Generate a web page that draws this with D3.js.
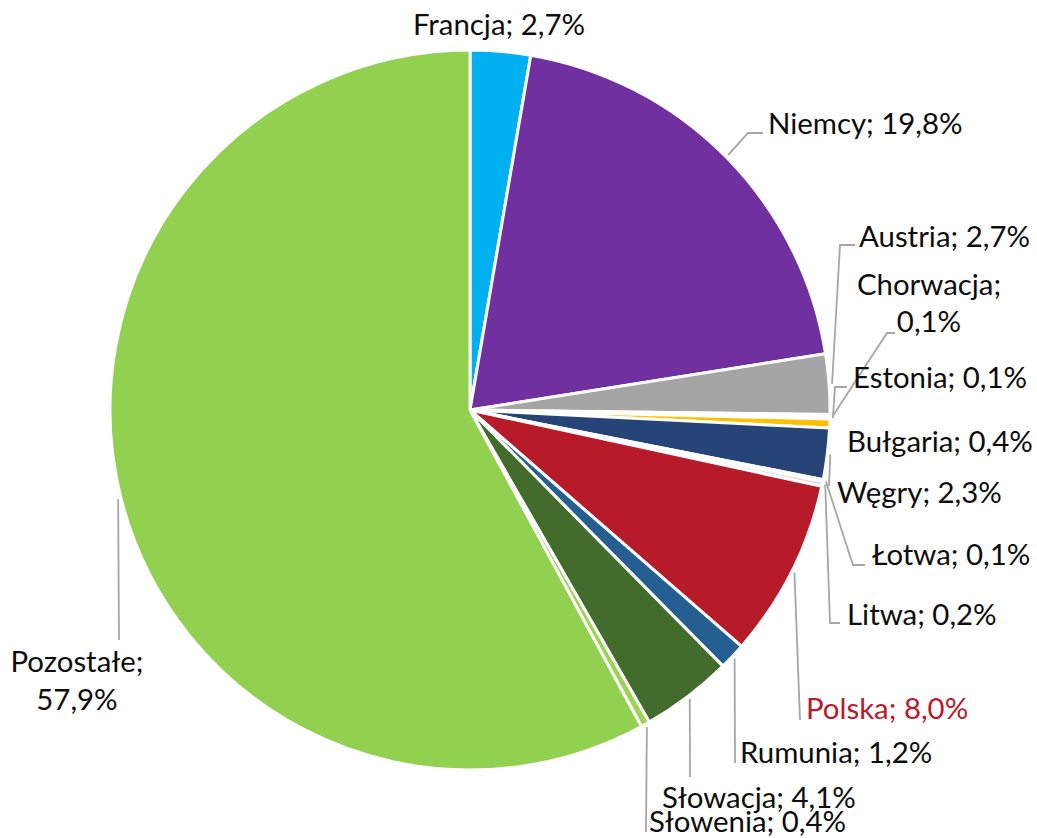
<!DOCTYPE html>
<html><head><meta charset="utf-8">
<script src="https://cdn.jsdelivr.net/npm/d3@7"></script>
<style>
html,body{margin:0;padding:0;background:#fff;}
svg{display:block;}
text{font-family:Lato,"Noto Sans",sans-serif;}
</style></head>
<body>
<svg id="chart" width="1037" height="838"></svg>
<script>
// ---- data ----
const categories = ["Francja","Niemcy","Austria","Chorwacja","Estonia","Bułgaria","Węgry","Łotwa","Litwa","Polska","Rumunia","Słowacja","Słowenia","Pozostałe"];
const values = [2.7,19.8,2.7,0.1,0.1,0.4,2.3,0.1,0.2,8.0,1.2,4.1,0.4,57.9];
const colors = ["#00B0F0","#7030A0","#A5A5A5","#5B9BD5","#ED7D31","#FFC000","#264478","#C9C9C9","#D9D9D9","#B71B29","#255E91","#436B2C","#9BD455","#92D050"];

// ---- layout (label placement) ----
const cx = 470, cy = 410, R = 360;
// lines: text lines; x,y baseline; anchor; leader: extra points after slice edge
const labelLayout = {
  "Francja":   {x:499, y:35, anchor:"middle", split:false, leader:null},
  "Niemcy":    {x:768, y:134, anchor:"start", split:false, leader:[[748,133],[763,133]]},
  "Austria":   {x:859, y:247, anchor:"start", split:false, leader:[[840,245],[855,245]]},
  "Chorwacja": {x:929, y:295, anchor:"middle", split:true, lh:37, leader:[[887,333],[895,333]]},
  "Estonia":   {x:853, y:388, anchor:"start", split:false, leader:[[835,387],[847,387]]},
  "Bułgaria":  {x:847, y:452, anchor:"start", split:false, leader:null},
  "Węgry":     {x:837, y:503, anchor:"start", split:false, leader:[[829,486]]},
  "Łotwa":     {x:872, y:565, anchor:"start", split:false, leader:[[853,565],[865,565]]},
  "Litwa":     {x:847, y:625, anchor:"start", split:false, leader:[[830,623],[840,623]]},
  "Polska":    {x:806, y:719, anchor:"start", split:false, leader:[[800,720]], color:"#B71B29"},
  "Rumunia":   {x:740, y:763, anchor:"start", split:false, leader:[[735,763]]},
  "Słowacja":  {x:662, y:808, anchor:"start", split:false, leader:[[690,777]]},
  "Słowenia":  {x:649, y:832, anchor:"start", split:false, leader:[[646,832]]},
  "Pozostałe": {x:77, y:672, anchor:"middle", split:true, lh:38, leader:[[119,640]]}
};

const data = categories.map((c,i)=>({name:c, value:values[i], color:colors[i]}));
const fmt = v => v.toFixed(1).replace(".", ",") + "%";

const svg = d3.select("#chart");

// fit font size to reference text width
const probe = svg.append("text").attr("font-size",100).text("Francja; 2,7%");
const w100 = probe.node().getComputedTextLength();
probe.remove();
const fs = Math.max(20, Math.min(32, 172 / w100 * 100));

const pie = d3.pie().sort(null).value(d=>d.value);
const arc = d3.arc().innerRadius(0).outerRadius(R);
const arcs = pie(data);

const g = svg.append("g").attr("transform",`translate(${cx},${cy})`);
g.selectAll("path.slice").data(arcs).join("path")
  .attr("class","slice")
  .attr("d",arc)
  .attr("fill",d=>d.data.color)
  .attr("stroke","#fff")
  .attr("stroke-width",3)
  .attr("stroke-linejoin","miter");

// leader lines
const lineGen = d3.line();
arcs.forEach(a=>{
  const L = labelLayout[a.data.name];
  if(!L || !L.leader) return;
  const mid = (a.startAngle + a.endAngle)/2;
  const sx = cx + Math.sin(mid)*(R+3), sy = cy - Math.cos(mid)*(R+3);
  const pts = [[sx,sy], ...L.leader];
  svg.append("path").attr("d",lineGen(pts))
    .attr("fill","none").attr("stroke","#A6A6A6").attr("stroke-width",1.8);
});

// labels
arcs.forEach(a=>{
  const L = labelLayout[a.data.name];
  const t = svg.append("text")
    .attr("x",L.x).attr("y",L.y)
    .attr("text-anchor",L.anchor)
    .attr("font-size",fs)
    .attr("fill",L.color || "#0d0d0d");
  if(L.split){
    t.append("tspan").attr("x",L.x).text(a.data.name + ";");
    t.append("tspan").attr("x",L.x).attr("dy",L.lh).text(fmt(a.data.value));
  } else {
    t.text(a.data.name + "; " + fmt(a.data.value));
  }
});
</script>
</body></html>
